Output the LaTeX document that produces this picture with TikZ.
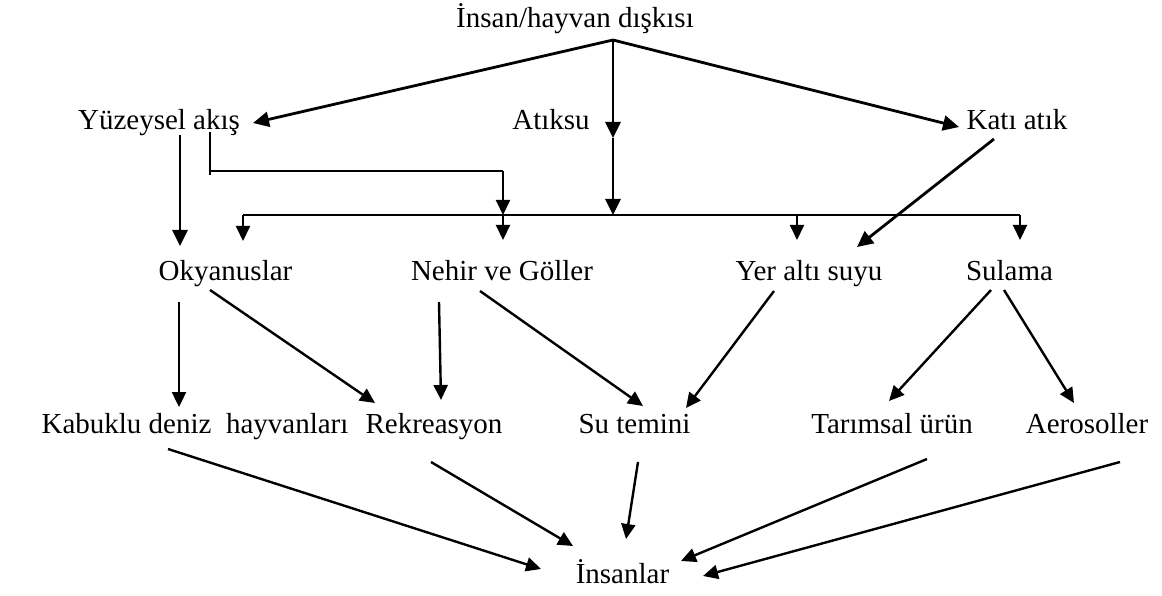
\documentclass[tikz,border=0pt]{standalone}
\usepackage{fontspec}
\setmainfont{Liberation Serif}
\usetikzlibrary{arrows.meta}
\begin{document}
\begin{tikzpicture}[x=1pt,y=-1pt,
  lbl/.style={inner sep=0pt,anchor=base,font=\fontsize{29}{34}\selectfont},
  bigarr/.style={line width=2.8pt,-{Triangle[length=16pt,width=15pt]}},
  arr/.style={line width=2.4pt,-{Triangle[length=15pt,width=14pt]}},
  brarr/.style={line width=2pt,-{Triangle[length=15pt,width=14pt]}},
  brline/.style={line width=2pt}]
\useasboundingbox (0,0) rectangle (1162,596);
% text nodes
\node[lbl] (top) at (575,28) {İnsan/hayvan dışkısı};
\node[lbl] (yuz) at (159,130) {Yüzeysel akış};
\node[lbl] (atik) at (551,130) {Atıksu};
\node[lbl] (kati) at (1017,130) {Katı atık};
\node[lbl] (oky) at (225.5,280) {Okyanuslar};
\node[lbl] (neh) at (502,280) {Nehir ve Göller};
\node[lbl] (yer) at (809,280) {Yer altı suyu};
\node[lbl] (sul) at (1009.5,280) {Sulama};
\node[lbl] (kab) at (195,433) {Kabuklu deniz\ \ hayvanları};
\node[lbl] (rek) at (434,433) {Rekreasyon};
\node[lbl] (sut) at (634.5,433) {Su temini};
\node[lbl] (tar) at (892,433) {Tarımsal ürün};
\node[lbl] (aer) at (1087,433) {Aerosoller};
\node[lbl] (ins) at (622.5,583) {İnsanlar};
% coordinates
\coordinate (J) at (613,40);
\coordinate (yuzin) at (253,123);
\coordinate (katiin) at (959,127);
\coordinate (midv) at (613,138);
\coordinate (bJ) at (613,215);
\coordinate (bL) at (243,215);
\coordinate (bR) at (1020,215);
\coordinate (bN) at (503,215);
\coordinate (bY) at (797,215);
\coordinate (okyin) at (243,241);
\coordinate (nehin) at (503,240);
\coordinate (yerin) at (797,240);
\coordinate (sulin) at (1020,240);
\coordinate (yuzA) at (180,135);
\coordinate (okyin2) at (180,246);
\coordinate (yuzB) at (210,132);
\coordinate (yuzBt) at (210,175);
\coordinate (yuzBh) at (210,171);
\coordinate (nehC) at (503,171);
\coordinate (katiout) at (994,139);
\coordinate (yerin2) at (857,247);
\coordinate (okyA) at (179,302);
\coordinate (kabin) at (179,407);
\coordinate (okyB) at (210,290);
\coordinate (rekin1) at (375,403);
\coordinate (nehA) at (439,302);
\coordinate (rekin2) at (441,400);
\coordinate (nehB) at (480,291);
\coordinate (sutin1) at (643,406);
\coordinate (yerA) at (774,291);
\coordinate (sutin2) at (686,408);
\coordinate (sulA) at (991,290);
\coordinate (tarin) at (889,401);
\coordinate (sulB) at (1004,290);
\coordinate (aerin) at (1074,403);
\coordinate (kabout) at (168,449);
\coordinate (ins1) at (541,569);
\coordinate (rekout) at (431,462);
\coordinate (ins2) at (573,546);
\coordinate (sutout) at (638,462);
\coordinate (ins3) at (626,539);
\coordinate (tarout) at (927,459);
\coordinate (ins4) at (681,561);
\coordinate (aerout) at (1120,462);
\coordinate (ins5) at (703,576);
% top level
\draw[bigarr] (J) -- (yuzin);
\draw[bigarr] (J) -- (katiin);
\draw[bigarr] (J) -- (midv);
\draw[bigarr] (midv) -- (bJ);
% bracket
\draw[brline] (bL) -- (bR);
\draw[brarr] (bL) -- (okyin);
\draw[brarr] (bN) -- (nehin);
\draw[brarr] (bY) -- (yerin);
\draw[brarr] (bR) -- (sulin);
% Yuzeysel akis
\draw[bigarr] (yuzA) -- (okyin2);
\draw[brline] (yuzB) -- (yuzBt);
\draw[brline] (yuzBh) -- (nehC);
\draw[brarr] (nehC) -- (bN);
% Kati atik
\draw[bigarr] (katiout) -- (yerin2);
% second level
\draw[arr] (okyA) -- (kabin);
\draw[arr] (okyB) -- (rekin1);
\draw[arr] (nehA) -- (rekin2);
\draw[arr] (nehB) -- (sutin1);
\draw[arr] (yerA) -- (sutin2);
\draw[arr] (sulA) -- (tarin);
\draw[arr] (sulB) -- (aerin);
% to Insanlar
\draw[arr] (kabout) -- (ins1);
\draw[arr] (rekout) -- (ins2);
\draw[arr] (sutout) -- (ins3);
\draw[arr] (tarout) -- (ins4);
\draw[arr] (aerout) -- (ins5);
\end{tikzpicture}
\end{document}
